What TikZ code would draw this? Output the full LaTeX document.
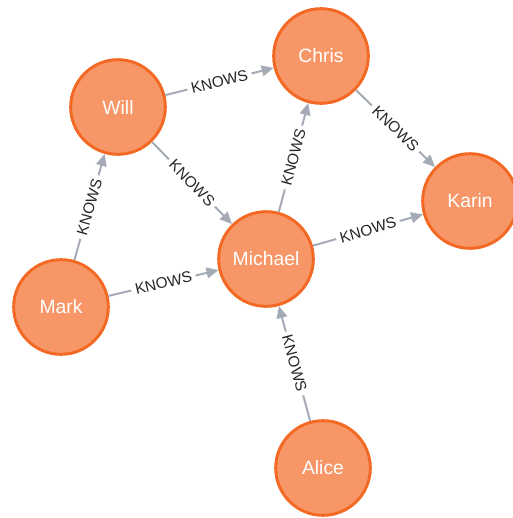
\documentclass[tikz,border=0pt]{standalone}
\usepackage{fontspec}
\setmainfont{Liberation Sans}
\usetikzlibrary{arrows.meta}
\definecolor{nodefill}{HTML}{F79767}
\definecolor{nodeline}{HTML}{F36924}
\definecolor{edgegray}{HTML}{A5ABB6}
\tikzset{
  person/.style={circle, fill=nodefill, draw=nodeline, line width=2.2pt,
    minimum size=71pt, inner sep=0pt, text=white, font=\fontsize{14.5}{17}\selectfont},
  rel/.style={draw=edgegray, line width=1.5pt, -{Triangle[length=9pt,width=8pt]}},
  rellabel/.style={midway, sloped, fill=white, inner sep=3pt, text=black!85,
    font=\fontsize{11.5}{13}\selectfont}
}
\begin{document}
\begin{tikzpicture}[x=0.75pt, y=-0.75pt]
\useasboundingbox (0,0) rectangle (513,518);
\node[person] (chris) at (321,56) {Chris};
\node[person] (will) at (118,107) {Will};
\node[person] (karin) at (470,201) {Karin};
\node[person] (michael) at (266,259) {Michael};
\node[person] (mark) at (61,307) {Mark};
\node[person] (alice) at (323,468) {Alice};
\path[rel] (will) -- node[rellabel] {KNOWS} (chris);
\path[rel] (will) -- node[rellabel] {KNOWS} (michael);
\path[rel] (mark) -- node[rellabel] {KNOWS} (will);
\path[rel] (mark) -- node[rellabel] {KNOWS} (michael);
\path[rel] (michael) -- node[rellabel] {KNOWS} (chris);
\path[rel] (michael) -- node[rellabel] {KNOWS} (karin);
\path[rel] (chris) -- node[rellabel] {KNOWS} (karin);
\path[rel] (alice) -- node[rellabel] {KNOWS} (michael);
\end{tikzpicture}
\end{document}
